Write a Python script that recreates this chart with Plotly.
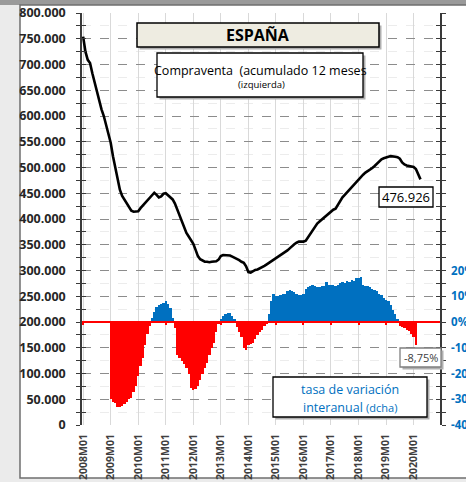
import plotly.graph_objects as go

# monthly categories 2008M01..2020M12 (axis runs to end of 2020)
months = [f"{y}M{m:02d}" for y in range(2008, 2021) for m in range(1, 13)]
year_ticks = [f"{y}M01" for y in range(2008, 2021)]

# Compraventa, accumulated 12 months (thousands), 2008M01..2020M04
compraventa_k = [
    754, 725, 709, 703, 683, 665, 648, 630, 613, 600, 582, 565,
    548, 522, 498, 475, 457, 445, 438, 430, 422, 416, 414, 414,
    415, 421, 426, 431, 435, 440, 444, 451, 447, 442, 444, 449,
    450, 446, 441, 438, 430, 418, 410, 398, 382, 373, 366, 358,
    352, 340, 328, 322, 319, 317, 317, 316, 317, 318, 318, 321,
    328, 330, 330, 330, 329, 327, 325, 323, 320, 317, 315, 308,
    297, 296, 299, 301, 302, 304, 306, 309, 312, 315, 317, 320,
    323, 326, 329, 332, 335, 339, 343, 348, 351, 354, 356, 356,
    356, 358, 365, 371, 378, 386, 391, 395, 399, 402, 406, 410,
    414, 418, 420, 427, 436, 442, 447, 452, 456, 462, 468, 473,
    477, 481, 486, 490, 493, 495, 499, 503, 508, 513, 516, 518,
    520, 521, 522, 522, 521, 520, 517, 510, 506, 504, 503, 502,
    501, 497, 488, 476.926,
]
compraventa = [v * 1000 for v in compraventa_k]

# tasa de variacion interanual (%), no data during 2008
tasa = [None] * 12 + [
    -30, -31, -31.5, -33, -33, -32.5, -32, -31, -30, -29.5, -27, -25,
    -21, -17, -14, -9, -4.5, -1.5, 1.5, 4, 6, 6.5, 7, 7.5,
    8, 7, 5.5, 1.5, -2.4, -13, -14, -15, -16.5, -18, -20, -25.5,
    -26.5, -26, -25, -22.5, -20, -18, -16, -13, -10, -8, -3.8, -0.5,
    1, 2.5, 3, 3.5, 3.5, 2.5, 1, -2, -4, -6, -10, -11,
    -9, -8.5, -8, -6.5, -5, -4, -3, -1.5, -0.5, 3, 8, 11,
    10, 10, 10.5, 11, 11, 12, 12.5, 12, 11.5, 11, 10.5, 10.5,
    11, 13, 13.5, 14, 14.5, 14, 13.5, 13.5, 14, 14, 15.5, 14.5,
    14.5, 14.5, 14, 14.5, 15, 15.5, 15, 16, 15.5, 16.5, 16, 17,
    17, 17.5, 14.5, 14, 14, 13.5, 13, 12.5, 12, 11, 10.5, 9.5,
    8.5, 8, 6.5, 4.5, 3, 1, -1.5, -1.8, -2.5, -3, -3.5, -4.5,
    -6, -8.75,
]
tasa_colors = ["#FF0000" if (v is not None and v < 0) else "#0070C0" for v in tasa]

# plot area in pixels (used to place boxes)
L, R, T, B = 82, 26, 13, 57
W, H = 466, 482
PW, PH = W - L - R, H - T - B


def px(x):
    return (x - L) / PW


def py(y):
    return (H - B - y) / PH


AX = "#3a3a3a"
BLUE = "#0070C0"
FONT = "Open Sans"

fig = go.Figure()

fig.add_trace(go.Bar(
    x=months[:len(tasa)], y=tasa, yaxis="y2",
    marker=dict(color=tasa_colors, line=dict(width=0)),
    hoverinfo="skip", showlegend=False,
))
# small red tick marks on the 0% line
fig.add_trace(go.Bar(
    x=year_ticks, y=[-1.2] * len(year_ticks), yaxis="y2", width=0.9,
    marker=dict(color="#FF0000", line=dict(width=0)),
    hoverinfo="skip", showlegend=False,
))
fig.add_trace(go.Scatter(
    x=months[:len(compraventa)], y=compraventa, mode="lines",
    line=dict(color="black", width=2.6), showlegend=False,
))
# invisible traces so the inside-tick axes are drawn
fig.add_trace(go.Scatter(x=[months[0]], y=[0], yaxis="y3", mode="none",
                         showlegend=False, hoverinfo="skip"))
fig.add_trace(go.Scatter(x=[months[0]], y=[0], yaxis="y4", mode="none",
                         showlegend=False, hoverinfo="skip"))

tick_font = dict(family=FONT, size=12.5, color="#262626", weight="bold")

fig.update_layout(
    width=W, height=H, autosize=False,
    margin=dict(l=L, r=R, t=T, b=B),
    paper_bgcolor="#ebebeb", plot_bgcolor="white",
    separators=",.",
    barmode="overlay", bargap=0,
    font=dict(family=FONT, color="black"),
    xaxis=dict(
        type="category", categoryorder="array", categoryarray=months,
        range=[-0.5, len(months) - 0.5], automargin=False,
        tickmode="array", tickvals=year_ticks, ticktext=year_ticks,
        tickangle=-90, ticks="", ticklabelstandoff=6,
        tickfont=dict(family=FONT, size=10.5, color="#404040", weight="bold"),
        showgrid=True, gridcolor="#d9d9d9", gridwidth=1,
        showline=False, zeroline=False,
    ),
    yaxis=dict(
        range=[0, 800000], dtick=50000, tickformat=",.0f", automargin=False,
        ticks="outside", ticklen=4, tickcolor=AX, tickwidth=1.3,
        ticklabelstandoff=8, tickfont=tick_font,
        showgrid=True, gridcolor="#8c8c8c", griddash="dash", gridwidth=1,
        minor=dict(dtick=25000, ticks="outside", ticklen=4, tickcolor=AX,
                   showgrid=True, gridcolor="#ececec"),
        showline=True, linecolor=AX, linewidth=1.6, zeroline=False,
    ),
    yaxis2=dict(
        overlaying="y", side="right", range=[-40, 120], automargin=False,
        tickmode="array", tickvals=[-40, -30, -20, -10, 0, 10, 20],
        ticktext=["-40%", "-30%", "-20%", "-10%", "0%", "10%", "20%"],
        ticks="outside", ticklen=4, tickcolor=AX, tickwidth=1.3,
        ticklabelstandoff=3,
        tickfont=dict(family=FONT, size=11.5, color=BLUE, weight="bold"),
        minor=dict(dtick=5, tick0=0, ticks="outside", ticklen=4, tickcolor=AX),
        showgrid=False, showline=True, linecolor=AX, linewidth=1.6,
        zeroline=False,
    ),
    yaxis3=dict(
        overlaying="y", side="left", range=[0, 800000], dtick=50000,
        automargin=False,
        ticks="inside", ticklen=4, tickcolor=AX, tickwidth=1.3,
        minor=dict(dtick=25000, ticks="inside", ticklen=4, tickcolor=AX),
        showticklabels=False, showgrid=False, showline=False, zeroline=False,
    ),
    yaxis4=dict(
        overlaying="y", side="right", range=[-40, 120], dtick=10,
        automargin=False,
        ticks="inside", ticklen=4, tickcolor=AX, tickwidth=1.3,
        minor=dict(dtick=5, tick0=0, ticks="inside", ticklen=4, tickcolor=AX),
        showticklabels=False, showgrid=False, showline=False, zeroline=False,
    ),
)

shapes = [
    # page frame
    dict(type="rect", xref="paper", yref="paper", layer="below",
         x0=px(0), x1=px(W), y0=py(0), y1=py(5),
         fillcolor="#9a9a9a", line=dict(width=0)),
    dict(type="rect", xref="paper", yref="paper", layer="below",
         x0=px(20), x1=px(475), y0=py(478), y1=py(5),
         fillcolor="white", line=dict(color="#6f6f6f", width=1.5)),
    # red 0% line
    dict(type="line", xref="paper", yref="y2", x0=0, x1=1, y0=0, y1=0,
         line=dict(color="#FF0000", width=2)),
]


def box(x0, y0, x1, y1, fill="white", border="black", shadow=True, width=1.3):
    out = []
    if shadow:
        out.append(dict(type="rect", xref="paper", yref="paper",
                        x0=px(x0 + 2.5), x1=px(x1 + 2.5), y0=py(y1 + 2.5), y1=py(y0 + 2.5),
                        fillcolor="#b0b0b0", line=dict(width=0)))
    out.append(dict(type="rect", xref="paper", yref="paper",
                    x0=px(x0), x1=px(x1), y0=py(y1), y1=py(y0),
                    fillcolor=fill, line=dict(color=border, width=width)))
    return out


shapes += box(137, 23, 379, 47, fill="#EEECE1", width=1.5)
shapes += box(157, 53, 363, 97)
shapes += box(379, 187, 433, 207, shadow=False)
shapes += box(400, 348, 441, 367, border="#7f7f7f")
shapes += box(273, 377, 427, 417)
fig.update_layout(shapes=shapes)


def label(x, y, text, size, color="black", bold=False):
    fig.add_annotation(
        xref="paper", yref="paper", x=px(x), y=py(y), text=text,
        showarrow=False, xanchor="center", yanchor="middle",
        font=dict(family=FONT, size=size, color=color,
                  weight="bold" if bold else "normal"),
    )


label(258, 35, "ESPAÑA", 16, bold=True)
label(260, 70, "Compraventa  (acumulado 12 meses", 12.5)
label(261, 84, "(izquierda)", 9.5)
label(406, 197, "476.926", 13)
label(420.5, 357.5, "-8,75%", 11, color="#404040")
label(350, 389, "tasa de variación", 12.5, color=BLUE)
label(350, 407, "interanual <span style='font-size:11px'>(dcha)</span>", 12.5, color=BLUE)

# the page's default body margin would shift the whole chart by 8px
fig.write_html("out.html", config={"displayModeBar": False},
               post_script="document.body.style.margin='0px';")
